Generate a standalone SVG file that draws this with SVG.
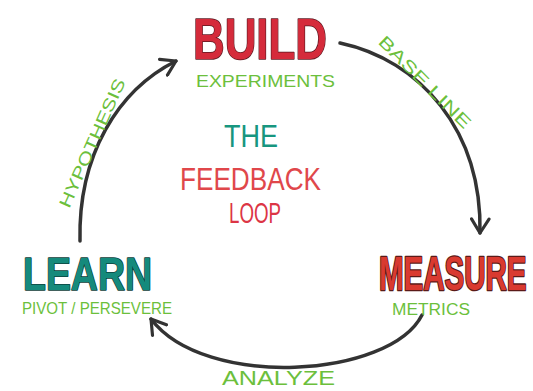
<svg xmlns="http://www.w3.org/2000/svg" width="533" height="391" viewBox="0 0 533 391">
<defs>
<style>
.hd{font-family:"Liberation Sans",Arial,sans-serif;font-weight:bold;stroke-width:1.6;stroke-linejoin:round;paint-order:stroke}
.lb{font-family:"Liberation Sans",Arial,sans-serif;fill:#6cbf3c}
.ce{font-family:"Liberation Sans",Arial,sans-serif}
.arc{fill:none;stroke:#333;stroke-width:3.5;stroke-linecap:round;marker-end:url(#ah)}
</style>
<marker id="ah" viewBox="0 0 12 12" refX="9" refY="6" markerWidth="6" markerHeight="6" orient="auto" markerUnits="strokeWidth">
<path d="M1,1 L9,6 L1,11" fill="none" stroke="#333" stroke-width="1.8" stroke-linecap="round" stroke-linejoin="round"/>
</marker>
</defs>
<rect width="533" height="391" fill="#fff"/>
<g id="connectors">
<path class="arc" d="M80,241 C78,155 118,90 176,61"/>
<path class="arc" d="M340,43 C420,60 482,130 480,233"/>
<path class="arc" d="M422,315 C390,378 205,390 151,319"/>
<text class="lb" font-size="17" text-anchor="middle" transform="translate(92,143) rotate(-66)" y="6" textLength="139" lengthAdjust="spacingAndGlyphs">HYPOTHESIS</text>
<text class="lb" font-size="17" text-anchor="middle" transform="translate(425,82) rotate(45)" y="6" textLength="123" lengthAdjust="spacingAndGlyphs">BASE LINE</text>
<text class="lb" font-size="21" x="222" y="385" textLength="113" lengthAdjust="spacingAndGlyphs">ANALYZE</text>
</g>
<g id="build">
<text class="hd" font-size="57" x="193" y="59" fill="#d52b3b" stroke="#5a1820" textLength="134" lengthAdjust="spacingAndGlyphs">BUILD</text>
<text class="lb" font-size="17" x="196" y="87" textLength="139" lengthAdjust="spacingAndGlyphs">EXPERIMENTS</text>
</g>
<g id="measure">
<text class="hd" font-size="29.5" transform="translate(379,290) scale(1,1.6)" fill="#d93a30" stroke="#5a1a18" stroke-width="1.1">MEASURE</text>
<text class="lb" font-size="16" x="392" y="315" textLength="78" lengthAdjust="spacingAndGlyphs">METRICS</text>
</g>
<g id="learn">
<text class="hd" font-size="46" x="23" y="290" fill="#158a7c" stroke="#0d3d38" textLength="129" lengthAdjust="spacingAndGlyphs">LEARN</text>
<text class="lb" font-size="17" x="22" y="314" textLength="150" lengthAdjust="spacingAndGlyphs">PIVOT / PERSEVERE</text>
</g>
<g id="title">
<text class="ce" font-size="32" x="224" y="147" fill="#17967f" textLength="54" lengthAdjust="spacingAndGlyphs">THE</text>
<text class="ce" font-size="31" x="180" y="190" fill="#e0474b" textLength="141" lengthAdjust="spacingAndGlyphs">FEEDBACK</text>
<text class="ce" font-size="30" x="229" y="223" fill="#dc3545" textLength="52" lengthAdjust="spacingAndGlyphs">LOOP</text>
</g>
</svg>
